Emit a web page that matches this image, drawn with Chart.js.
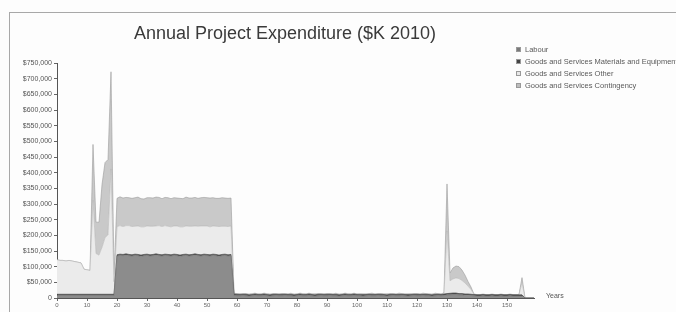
<!DOCTYPE html>
<html>
<head>
<meta charset="utf-8">
<script src="https://cdn.jsdelivr.net/npm/chart.js"></script>
<style>
  html, body { margin:0; padding:0; background:#ffffff; }
  #wrap { position:relative; width:676px; height:312px; overflow:hidden; background:#fdfdfd; }
  #frame { position:absolute; left:9px; top:12px; width:700px; height:400px; border:1px solid #a8a8a8; }
  #title { position:absolute; left:0; width:570px; top:23px; text-align:center;
           font-family:"Liberation Sans", Arial, sans-serif; font-size:18px; color:#3a3a3a; }
  #legend { position:absolute; left:516px; top:44px; font-family:"Liberation Sans", Arial, sans-serif;
            font-size:7.5px; color:#5a5a5a; white-space:nowrap; }
  .li { height:12px; line-height:12px; position:relative; padding-left:9px; }
  .mk { position:absolute; left:0; top:3px; width:5px; height:5px; box-sizing:border-box; }
  #ylab { position:absolute; left:546px; top:292px; font-family:"Liberation Sans", Arial, sans-serif;
          font-size:7px; color:#555; }
  canvas { position:absolute; left:0; top:0; }
</style>
</head>
<body>
<div id="wrap">
  <div id="frame"></div>
  <canvas id="c" width="676" height="312"></canvas>
  <div id="title">Annual Project Expenditure ($K 2010)</div>
  <div id="legend"></div>
  <div id="ylab">Years</div>
</div>
<script>
// ---- data ($K 2010 per year) ----
const years = [];
for (let i = 0; i < 160; i++) years.push(String(i));
const xTickLabels = ['0','10','20','30','40','50','60','70','80','90','100','110','120','130','140','150'];
const yTickValues = [0,50,100,150,200,250,300,350,400,450,500,550,600,650,700,750];

const seriesNames = ['Labour','Goods and Services Materials and Equipment','Goods and Services Other','Goods and Services Contingency'];

const labour = [
8,8,8,8,8,8,8,8,8,8,
8,8,8,8,8,8,8,8,8,8,
134,136,135,137,135,134,136,135,133,135,
136,134,135,137,135,134,136,135,134,136,
135,133,135,136,134,135,137,135,134,136,
135,134,136,135,133,135,136,134,135,
8,7,7,8,7,6,7,8,7,7,
8,7,6,7,8,7,7,8,7,7,
6,7,8,7,7,8,7,6,7,8,
7,7,8,7,7,6,7,8,7,7,
8,7,7,6,7,8,7,7,8,7,
7,6,7,8,7,7,8,7,6,7,
8,7,7,8,7,7,6,7,8,7,
8,
10,10,11,11,10,10,9,9,8,
7,6,6,7,6,6,7,6,6,7,6,6,7,6,6,6,6,
0,0,0,0];

const materials = [
4,4,4,4,4,4,4,4,4,4,
4,4,4,4,4,4,4,4,4,4,
4,4,4,4,4,4,4,4,4,4,
4,4,4,4,4,4,4,4,4,4,
4,4,4,4,4,4,4,4,4,4,
4,4,4,4,4,4,4,4,4,5,
5,4,4,5,4,4,5,4,4,5,
4,4,5,4,4,5,4,4,5,4,
4,5,4,4,5,4,4,5,4,4,
5,4,4,5,4,4,5,4,4,5,
4,4,5,4,4,5,4,4,5,4,
4,5,4,4,5,4,4,5,4,4,
5,4,4,5,4,4,5,4,4,5,
4,5,5,5,4,4,4,4,4,4,
4,4,4,4,4,4,4,4,4,4,
4,4,4,4,4,4,
0,0,0,0];

const other = [
110,108,108,106,108,106,104,102,100,80,
78,76,300,130,125,150,180,190,400,40,
90,91,89,90,92,90,89,91,90,88,
90,91,90,89,92,90,91,90,89,90,
91,90,88,90,91,90,89,90,92,90,
91,89,90,90,91,90,89,90,91,
2,2,3,2,2,2,3,2,2,2,
2,3,2,2,2,3,2,2,2,3,
2,2,2,3,2,2,2,3,2,2,
3,2,2,2,3,2,2,2,3,2,
2,2,3,2,2,2,3,2,2,2,
2,3,2,2,2,3,2,2,2,3,
2,2,2,3,2,2,2,3,2,2,
3,
200,40,45,48,48,42,35,25,15,
1,1,1,1,1,1,1,1,1,1,1,1,1,1,1,1,
40,
0,0,0,0];

const contingency = [
0,0,0,0,0,0,0,0,0,0,
0,0,178,100,105,200,240,240,310,20,
90,92,91,90,89,90,91,92,90,89,
90,91,90,92,90,89,90,91,90,90,
89,91,90,92,90,90,91,89,90,91,
90,92,90,89,90,91,90,90,89,
0,0,0,0,0,0,0,0,0,0,
0,0,0,0,0,0,0,0,0,0,
0,0,0,0,0,0,0,0,0,0,
0,0,0,0,0,0,0,0,0,0,
0,0,0,0,0,0,0,0,0,0,
0,0,0,0,0,0,0,0,0,0,
0,0,0,0,0,0,0,0,0,0,
0,
150,25,35,38,38,33,25,15,8,
0,0,0,0,0,0,0,0,0,0,0,0,0,0,0,0,
15,
0,0,0,0];

const fills   = ['#8c8c8c','#4f4f4f','#ebebeb','#c9c9c9'];
const borders = ['#707070','#3f3f3f','#b5b5b5','#9a9a9a'];
const markers = ['#7a7a7a','#444444','#e8e8e8','#bdbdbd'];
const seriesData = [labour, materials, other, contingency];

// legend (HTML text)
const lg = document.getElementById('legend');
seriesNames.forEach((n, i) => {
  const d = document.createElement('div'); d.className = 'li';
  const m = document.createElement('span'); m.className = 'mk';
  m.style.background = markers[i]; m.style.border = '1px solid #999';
  d.appendChild(m); d.appendChild(document.createTextNode(n)); lg.appendChild(d);
});

new Chart(document.getElementById('c'), {
  type: 'line',
  data: {
    labels: years,
    datasets: seriesData.map((arr, i) => ({
      label: seriesNames[i],
      data: arr,
      fill: i === 0 ? 'origin' : '-1',
      backgroundColor: fills[i],
      borderColor: borders[i],
      borderWidth: 0.6,
      pointRadius: 0,
      tension: 0
    }))
  },
  options: {
    responsive: false,
    animation: false,
    devicePixelRatio: 1,
    layout: { padding: { top: 63, right: 142, left: 0, bottom: 0 } },
    plugins: { legend: { display: false }, tooltip: { enabled: false }, title: { display: false } },
    scales: {
      x: {
        type: 'category',
        offset: false,
        afterFit: s => { s.height = 14; },
        grid: { display: true, drawOnChartArea: false, tickLength: 3, color: '#666' },
        border: { display: true, color: '#555', width: 1 },
        ticks: {
          autoSkip: false, maxRotation: 0, minRotation: 0, padding: 1,
          font: { family: 'Liberation Sans', size: 6 }, color: '#666',
          callback: function(v, i) { const l = years[i]; return xTickLabels.includes(l) ? l : null; }
        }
      },
      y: {
        stacked: true,
        min: 0, max: 750,
        afterFit: s => { s.width = 57; },
        afterBuildTicks: s => { s.ticks = yTickValues.map(v => ({ value: v })); },
        grid: { display: true, drawOnChartArea: false, tickLength: 3, color: '#666' },
        border: { display: true, color: '#555', width: 1 },
        ticks: {
          padding: 2,
          font: { family: 'Liberation Sans', size: 7 }, color: '#555',
          callback: v => v === 0 ? '0' : '$' + (v * 1000).toLocaleString('en-US')
        }
      }
    }
  }
});
</script>
</body>
</html>
